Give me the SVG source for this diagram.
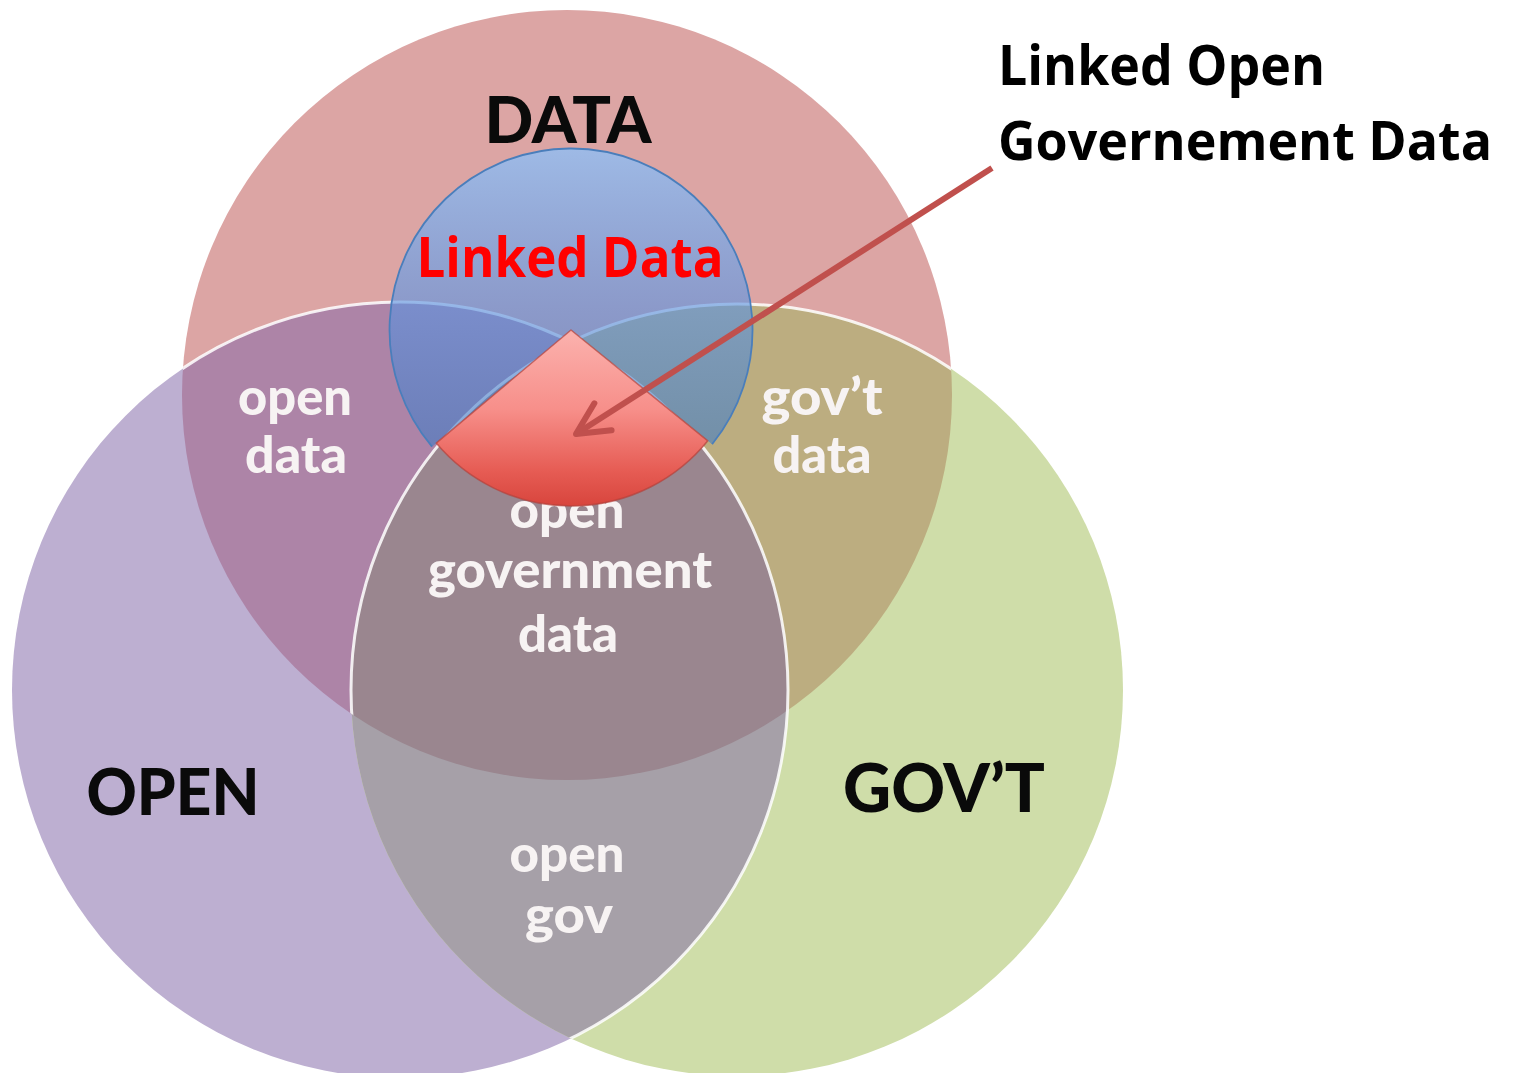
<svg xmlns="http://www.w3.org/2000/svg" width="1516" height="1073" viewBox="0 0 1516 1073">
<style>
.big{font-family:Lato,"Open Sans","DejaVu Sans",sans-serif;font-weight:900;fill:#0a0a0a;text-anchor:middle}
.lbl{font-family:Lato,"Open Sans","DejaVu Sans",sans-serif;font-weight:900;fill:#f7f3f3;font-size:52px;text-anchor:middle}
.cal{font-family:"Open Sans","Noto Sans","DejaVu Sans",sans-serif;font-weight:700}
.edge{fill:none;stroke:#ffffff;stroke-width:3;stroke-opacity:0.85}
</style>
<defs>
<clipPath id="cpData"><circle cx="567" cy="395" r="385"/></clipPath>
<clipPath id="cpOpen"><circle cx="400" cy="690" r="388"/></clipPath>
<clipPath id="cpGov"><circle cx="737" cy="690" r="386"/></clipPath>
<clipPath id="cpDataGov"><circle cx="567" cy="395" r="385"/><circle cx="737" cy="690" r="386"/></clipPath>
<linearGradient id="gBlue" gradientUnits="userSpaceOnUse" x1="0" y1="148" x2="0" y2="512">
<stop offset="0" stop-color="#86c2ff" stop-opacity="0.72"/>
<stop offset="0.45" stop-color="#5a92e0" stop-opacity="0.62"/>
<stop offset="1" stop-color="#2f6eb7" stop-opacity="0.56"/>
</linearGradient>
<linearGradient id="gRed" gradientUnits="userSpaceOnUse" x1="0" y1="330" x2="0" y2="506">
<stop offset="0" stop-color="#fbb2ae"/>
<stop offset="0.45" stop-color="#f78f8a"/>
<stop offset="0.8" stop-color="#e65c54"/>
<stop offset="1" stop-color="#d8453d"/>
</linearGradient>
<marker id="openArrow" markerUnits="userSpaceOnUse" viewBox="-40 -22 46 44" refX="0" refY="0" markerWidth="46" markerHeight="44" orient="auto" overflow="visible">
<path d="M-32,-16 L0,0 L-32,16" fill="none" stroke="#c0504d" stroke-width="6" stroke-linecap="round" stroke-linejoin="round"/>
</marker>
</defs>
<rect width="1516" height="1073" fill="#ffffff"/>

<g id="circle-data">
<circle cx="567" cy="395" r="385" fill="#dca5a4"/>
</g>
<g id="circle-open">
<circle cx="400" cy="690" r="388" fill="#bdafd1"/>
</g>
<g id="circle-govt">
<circle cx="737" cy="690" r="386" fill="#cfdda9"/>
</g>

<g id="region-open-data">
<g clip-path="url(#cpData)"><circle cx="400" cy="690" r="388" fill="#ad84a7"/></g>
</g>
<g id="region-govt-data">
<g clip-path="url(#cpData)"><circle cx="737" cy="690" r="386" fill="#bcad80"/></g>
</g>
<g id="region-open-gov">
<g clip-path="url(#cpOpen)"><circle cx="737" cy="690" r="386" fill="#a6a0a8"/></g>
</g>
<g id="region-open-government-data">
<g clip-path="url(#cpData)"><g clip-path="url(#cpOpen)"><circle cx="737" cy="690" r="386" fill="#9a868f"/></g></g>
</g>

<g id="edges">
<g clip-path="url(#cpDataGov)"><circle class="edge" cx="400" cy="690" r="388"/></g>
<g clip-path="url(#cpData)"><circle class="edge" cx="737" cy="690" r="386"/></g>
</g>

<g id="labels">
<text class="big" x="568" y="143" font-size="64" textLength="167" lengthAdjust="spacingAndGlyphs">DATA</text>
<text class="big" x="173" y="815" font-size="65" textLength="173" lengthAdjust="spacingAndGlyphs">OPEN</text>
<text class="big" x="944" y="812" font-size="66" textLength="202" lengthAdjust="spacingAndGlyphs">GOV’T</text>
<text class="lbl" x="295" y="415" textLength="114" lengthAdjust="spacingAndGlyphs">open</text>
<text class="lbl" x="296" y="473" textLength="102" lengthAdjust="spacingAndGlyphs">data</text>
<text class="lbl" x="822" y="415" textLength="121" lengthAdjust="spacingAndGlyphs">gov’t</text>
<text class="lbl" x="822" y="473" textLength="99" lengthAdjust="spacingAndGlyphs">data</text>
<text class="lbl" x="567" y="528" textLength="115" lengthAdjust="spacingAndGlyphs">open</text>
<text class="lbl" x="570" y="588" textLength="284" lengthAdjust="spacingAndGlyphs">government</text>
<text class="lbl" x="568" y="652" textLength="100" lengthAdjust="spacingAndGlyphs">data</text>
<text class="lbl" x="567" y="872" textLength="115" lengthAdjust="spacingAndGlyphs">open</text>
<text class="lbl" x="569" y="933" textLength="88" lengthAdjust="spacingAndGlyphs">gov</text>
</g>

<g id="linked-data">
<path d="M571,330 L712.1,444.2 A181.5,181.5 0 1 0 432,446.7 Z" fill="url(#gBlue)"/>
<path d="M712.1,444.2 A181.5,181.5 0 1 0 432,446.7" fill="none" stroke="#4a7ebb" stroke-width="1.8"/>
<text class="cal" x="570" y="277" font-size="56" fill="#ff0000" text-anchor="middle" textLength="307" lengthAdjust="spacingAndGlyphs">Linked Data</text>
</g>

<g id="linked-open-government-data">
<path d="M571,330 L436.2,443.1 A176,176 0 0 0 707.8,440.8 Z" fill="url(#gRed)" stroke="#b4423c" stroke-width="1.5" stroke-opacity="0.7" stroke-linejoin="round"/>
<text class="cal" x="998" y="85" font-size="56" fill="#000000" textLength="327" lengthAdjust="spacingAndGlyphs">Linked Open</text>
<text class="cal" x="998" y="160" font-size="54" fill="#000000" textLength="494" lengthAdjust="spacingAndGlyphs">Governement Data</text>
</g>

<g id="connectors">
<line x1="992" y1="168" x2="576" y2="434" stroke="#c0504d" stroke-width="6" marker-end="url(#openArrow)"/>
</g>
</svg>
